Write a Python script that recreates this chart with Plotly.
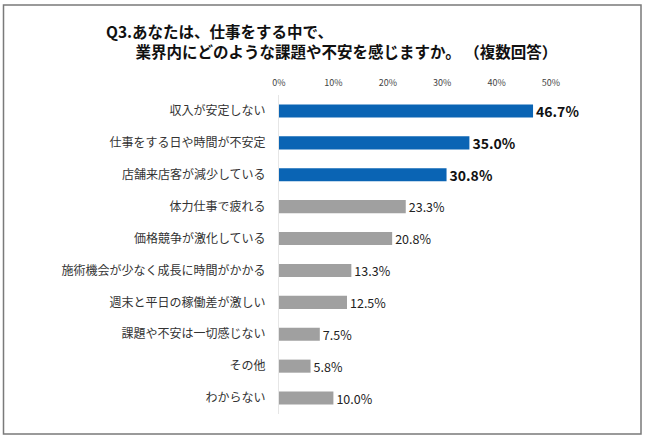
import plotly.graph_objects as go

categories = [
    "収入が安定しない",
    "仕事をする日や時間が不安定",
    "店舗来店客が減少している",
    "体力仕事で疲れる",
    "価格競争が激化している",
    "施術機会が少なく成長に時間がかかる",
    "週末と平日の稼働差が激しい",
    "課題や不安は一切感じない",
    "その他",
    "わからない",
]
values = [46.7, 35.0, 30.8, 23.3, 20.8, 13.3, 12.5, 7.5, 5.8, 10.0]
highlight_count = 3
tick_values = [0, 10, 20, 30, 40, 50]
tick_labels = ["0%", "10%", "20%", "30%", "40%", "50%"]

title_line1 = "Q3.あなたは、仕事をする中で、"
title_line2 = "業界内にどのような課題や不安を感じますか。 （複数回答）"

FONT = "Noto Sans CJK JP, Noto Sans, sans-serif"
BLUE = "#0A64B4"
GRAY = "#A0A0A0"

W, H = 650, 439
L, R, T, B = 279, 99, 95, 25
pw, ph = W - L - R, H - T - B


def px_x(x):
    return (x - L) / pw


def px_y(y):
    return (H - B - y) / ph


fig = go.Figure()
fig.add_trace(go.Bar(
    y=categories[:highlight_count], x=values[:highlight_count], orientation="h",
    marker=dict(color=BLUE, line=dict(width=0)),
    text=[f"{v:.1f}%" for v in values[:highlight_count]],
    textposition="outside", cliponaxis=False, constraintext="none",
    textfont=dict(family=FONT, size=14, color="#111", weight="bold"),
    hoverinfo="skip",
))
fig.add_trace(go.Bar(
    y=categories[highlight_count:], x=values[highlight_count:], orientation="h",
    marker=dict(color=GRAY, line=dict(width=0)),
    text=[f"{v:.1f}%" for v in values[highlight_count:]],
    textposition="outside", cliponaxis=False, constraintext="none",
    textfont=dict(family=FONT, size=12.5, color="#222"),
    hoverinfo="skip",
))

title_text = title_line1 + "<br>" + "\u3000" + "&nbsp;" * 4 + title_line2

fig.update_layout(
    width=W, height=H,
    margin=dict(l=L, r=R, t=T, b=B, pad=0),
    paper_bgcolor="white", plot_bgcolor="white",
    barmode="overlay", bargap=0.59, showlegend=False,
    font=dict(family=FONT, color="#333"),
    xaxis=dict(
        range=[0, 50], tickmode="array", tickvals=tick_values, ticktext=tick_labels,
        side="top", showgrid=False, zeroline=False, showline=False,
        tickfont=dict(size=9, color="#444"), ticks="", ticklabelstandoff=6,
    ),
    yaxis=dict(
        categoryorder="array", categoryarray=categories, autorange="reversed",
        showgrid=False, zeroline=False, showline=True, linecolor="#E6E6E6", linewidth=1,
        tickfont=dict(size=12, color="#333"), ticks="", ticklabelstandoff=10,
    ),
    shapes=[dict(
        type="rect", xref="paper", yref="paper",
        x0=px_x(3.5), x1=px_x(641), y0=px_y(434), y1=px_y(5),
        line=dict(color="#7A7A7A", width=1.5), fillcolor="rgba(0,0,0,0)",
    )],
    annotations=[
        dict(text=title_text, xref="paper", yref="paper", x=px_x(104), y=px_y(41.5),
             xanchor="left", yanchor="middle", align="left", showarrow=False,
             font=dict(family=FONT, size=15.5, color="#111", weight="bold")),
    ],
)

fig.write_html("out.html", config={"displayModeBar": False},
               post_script="document.body.style.margin='0';")
